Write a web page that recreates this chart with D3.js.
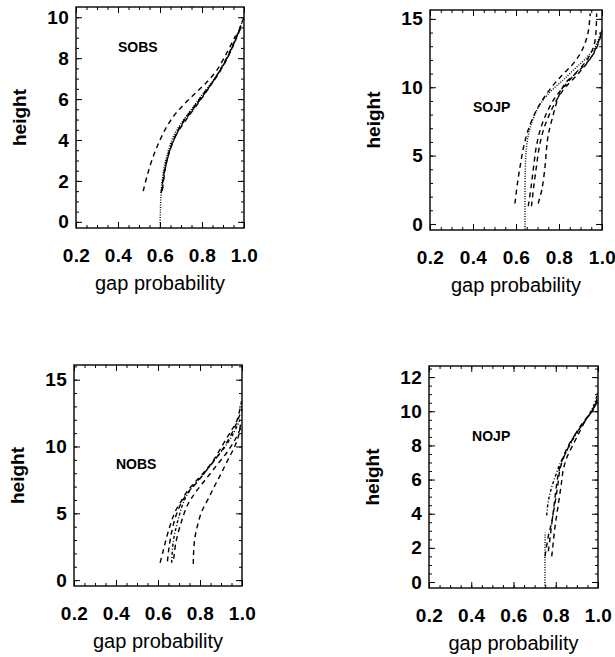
<!DOCTYPE html>
<html>
<head>
<meta charset="utf-8">
<title>Gap probability profiles</title>
<script src="https://cdn.jsdelivr.net/npm/d3@7"></script>
<style>
 body { margin: 0; background: #fff; }
 svg, svg text { font-family: "Liberation Sans", Arial, sans-serif; }
 .tick text { font-size: 19px; font-weight: bold; fill: #000; letter-spacing: 0.3px; font-family: "Liberation Sans", Arial, sans-serif; }
 .tick line { stroke: #000; stroke-width: 1px; }
 .frame { fill: none; stroke: #000; stroke-width: 1.4px; }
 .curve { fill: none; stroke: #000; stroke-width: 1.4px; }
 .xlabel { font-size: 20px; }
 .ylabel { font-size: 19px; font-weight: bold; }
 .site { font-size: 14px; font-weight: bold; }
</style>
</head>
<body>
<script>
// tick labels
var gapTicks = [0.2, 0.4, 0.6, 0.8, 1.0];
var sobsHeightTicks = [0, 2, 4, 6, 8, 10];
var sojpHeightTicks = [0, 5, 10, 15];
var nobsHeightTicks = [0, 5, 10, 15];
var nojpHeightTicks = [0, 2, 4, 6, 8, 10, 12];

// curves, [gap probability, height]
var sobsCurves = [
  [[0.600, -0.3], [0.602, 0.6], [0.606, 1.5], [0.615, 2.4], [0.632, 3.2], [0.660, 4.1], [0.700, 4.8], [0.750, 5.5], [0.800, 6.2], [0.860, 7.0], [0.920, 8.0], [0.965, 9.0], [0.995, 9.9]],
  [[0.610, 1.5], [0.622, 2.5], [0.640, 3.3], [0.668, 4.1], [0.710, 4.9], [0.760, 5.6], [0.810, 6.3], [0.870, 7.1], [0.930, 8.2], [0.970, 9.2], [1.000, 10.0]],
  [[0.612, 1.6], [0.627, 2.7], [0.650, 3.6], [0.680, 4.3], [0.725, 5.0], [0.775, 5.7], [0.830, 6.5], [0.890, 7.5], [0.945, 8.6], [0.985, 9.6]],
  [[0.605, 1.4], [0.618, 2.3], [0.636, 3.1], [0.662, 3.9], [0.700, 4.7], [0.750, 5.4], [0.800, 6.1], [0.855, 6.9], [0.915, 7.9], [0.960, 8.9], [0.990, 9.6]],
  [[0.520, 1.5], [0.540, 2.3], [0.568, 3.2], [0.600, 4.0], [0.635, 4.7], [0.675, 5.3], [0.720, 5.8], [0.770, 6.3], [0.820, 6.8], [0.870, 7.4], [0.920, 8.3], [0.960, 9.1]]
];
var sojpCurves = [
  [[0.642, -0.4], [0.642, 2.0], [0.643, 4.0], [0.648, 5.5], [0.660, 6.7], [0.680, 7.7], [0.710, 8.7], [0.755, 9.6], [0.810, 10.4], [0.870, 11.3], [0.930, 12.2], [0.970, 13.0], [0.995, 14.0]],
  [[0.595, 1.5], [0.607, 3.0], [0.620, 4.3], [0.635, 5.6], [0.655, 6.8], [0.685, 8.0], [0.720, 9.0], [0.765, 10.0], [0.815, 10.9], [0.870, 11.8], [0.910, 12.8], [0.935, 14.0], [0.945, 15.4]],
  [[0.657, 1.3], [0.670, 2.7], [0.682, 4.2], [0.695, 5.7], [0.715, 7.0], [0.745, 8.2], [0.780, 9.2], [0.820, 10.0], [0.870, 10.9], [0.930, 12.0], [0.965, 13.2], [0.975, 15.4]],
  [[0.672, 1.3], [0.683, 2.8], [0.695, 4.2], [0.708, 5.6], [0.728, 6.9], [0.755, 8.0], [0.790, 9.1], [0.830, 10.0], [0.890, 11.0], [0.950, 12.2], [0.990, 13.6], [1.000, 14.2]],
  [[0.703, 1.5], [0.720, 2.5], [0.735, 4.2], [0.742, 5.5], [0.750, 6.5], [0.770, 7.8], [0.800, 9.4], [0.830, 10.3], [0.870, 10.9], [0.930, 11.8], [0.970, 12.7], [0.995, 13.8]]
];
var nobsCurves = [
  [[0.665, 1.3], [0.673, 2.9], [0.697, 4.6], [0.729, 6.1], [0.770, 7.1], [0.820, 8.0], [0.870, 9.0], [0.920, 10.0], [0.960, 11.0], [0.990, 12.0]],
  [[0.610, 1.3], [0.625, 2.2], [0.641, 3.2], [0.660, 4.2], [0.681, 5.1], [0.710, 5.9], [0.737, 6.6], [0.775, 7.3], [0.815, 8.0], [0.865, 9.0], [0.911, 10.2], [0.950, 11.2], [0.975, 11.9], [0.998, 13.4]],
  [[0.645, 1.4], [0.652, 2.4], [0.665, 3.6], [0.685, 4.8], [0.712, 5.8], [0.745, 6.6], [0.790, 7.4], [0.840, 8.4], [0.890, 9.4], [0.935, 10.5], [0.970, 11.6], [1.000, 12.8]],
  [[0.675, 1.6], [0.685, 2.8], [0.710, 4.3], [0.740, 5.6], [0.780, 6.6], [0.830, 7.6], [0.880, 8.6], [0.930, 9.6], [0.970, 10.6], [1.000, 11.6]],
  [[0.768, 1.2], [0.770, 2.2], [0.776, 3.2], [0.790, 4.2], [0.810, 5.2], [0.840, 6.1], [0.868, 7.0], [0.895, 7.8], [0.920, 8.6], [0.943, 9.3], [0.965, 10.0], [0.982, 10.7], [0.995, 11.9]]
];
var nojpCurves = [
  [[0.749, -0.35], [0.749, 1.5], [0.750, 2.9]],
  [[0.757, 3.9], [0.763, 4.6], [0.773, 5.2], [0.787, 5.8], [0.804, 6.4], [0.823, 7.0], [0.844, 7.5], [0.870, 8.1], [0.899, 8.7], [0.930, 9.3], [0.962, 9.9], [0.985, 10.5], [1.000, 11.2]],
  [[0.749, 1.5], [0.757, 2.1], [0.765, 2.7], [0.777, 3.3], [0.788, 4.0], [0.796, 4.6], [0.804, 5.2], [0.812, 5.9], [0.820, 6.6], [0.838, 7.3], [0.860, 7.9], [0.885, 8.5], [0.915, 9.1], [0.945, 9.6], [0.978, 10.1], [1.000, 10.7]],
  [[0.781, 1.5], [0.788, 2.3], [0.796, 3.2], [0.808, 4.2], [0.820, 5.2], [0.828, 5.9], [0.836, 6.6], [0.853, 7.3], [0.876, 7.9], [0.905, 8.6], [0.938, 9.4], [0.970, 10.0], [0.995, 10.7]],
  [[0.765, 1.8], [0.775, 2.8], [0.785, 3.8], [0.795, 4.8], [0.805, 5.8], [0.815, 6.5], [0.835, 7.3], [0.860, 8.0], [0.890, 8.6], [0.925, 9.2], [0.960, 9.8], [0.990, 10.4]]
];

// dash pattern for each curve, by index
var dotted = '1,1.5';
var dashDot = '3,2,1,2';
var dashed = '5,4';

var panels = [
  {name: 'SOBS', curves: sobsCurves, dash: [dotted, dashed, dashed, dashed, dashed],
   yTicks: sobsHeightTicks, yMinor: 0.5, yDomain: [-0.3, 10.5], box: [76, 7, 244, 228], site: [0.4, 8.3]},
  {name: 'SOJP', curves: sojpCurves, dash: [dotted, dashed, dashed, dashed, dashed],
   yTicks: sojpHeightTicks, yMinor: 1, yDomain: [-0.44, 15.65], box: [430, 10, 602, 230], site: [0.4, 8.2]},
  {name: 'NOBS', curves: nobsCurves, dash: [dashDot, dashed, dashed, dashed, dashed],
   yTicks: nobsHeightTicks, yMinor: 1, yDomain: [-0.44, 16.1], box: [74, 365, 242, 586], site: [0.4, 8.3]},
  {name: 'NOJP', curves: nojpCurves, dash: [dotted, dashDot, dashed, dashed, dashed],
   yTicks: nojpHeightTicks, yMinor: 0.5, yDomain: [-0.35, 12.65], box: [429, 366, 598, 588], site: [0.404, 8.25]}
];

var svg = d3.select('body').append('svg')
    .attr('width', 615)
    .attr('height', 657);

panels.forEach(function (p) {
  var left = p.box[0], top = p.box[1], right = p.box[2], bottom = p.box[3];
  var x = d3.scaleLinear().domain([0.2, 1.0]).range([left, right]);
  var y = d3.scaleLinear().domain(p.yDomain).range([bottom, top]);
  var g = svg.append('g');

  var xMinor = d3.range(0.2, 1.0001, 0.05);
  var yMinor = d3.range(Math.ceil(p.yDomain[0] / p.yMinor) * p.yMinor, p.yDomain[1], p.yMinor);

  // minor ticks all round
  g.append('g').attr('transform', 'translate(0,' + bottom + ')')
    .call(d3.axisBottom(x).tickValues(xMinor).tickSize(-3).tickSizeOuter(0).tickFormat(''));
  g.append('g').attr('transform', 'translate(0,' + top + ')')
    .call(d3.axisTop(x).tickValues(xMinor).tickSize(-3).tickSizeOuter(0).tickFormat(''));
  g.append('g').attr('transform', 'translate(' + left + ',0)')
    .call(d3.axisLeft(y).tickValues(yMinor).tickSize(-3).tickSizeOuter(0).tickFormat(''));
  g.append('g').attr('transform', 'translate(' + right + ',0)')
    .call(d3.axisRight(y).tickValues(yMinor).tickSize(-3).tickSizeOuter(0).tickFormat(''));

  // major ticks
  g.append('g').attr('transform', 'translate(0,' + bottom + ')')
    .call(d3.axisBottom(x).tickValues(gapTicks).tickSize(-6).tickSizeOuter(0)
      .tickPadding(21).tickFormat(d3.format('.1f')));
  g.append('g').attr('transform', 'translate(0,' + top + ')')
    .call(d3.axisTop(x).tickValues(gapTicks).tickSize(-6).tickSizeOuter(0).tickFormat(''));
  g.append('g').attr('transform', 'translate(' + left + ',0)')
    .call(d3.axisLeft(y).tickValues(p.yTicks).tickSize(-6).tickSizeOuter(0).tickPadding(7));
  g.append('g').attr('transform', 'translate(' + right + ',0)')
    .call(d3.axisRight(y).tickValues(p.yTicks).tickSize(-6).tickSizeOuter(0).tickFormat(''));

  g.selectAll('.domain').remove();

  g.append('rect').attr('class', 'frame')
    .attr('x', left).attr('y', top)
    .attr('width', right - left).attr('height', bottom - top);

  var line = d3.line()
    .x(function (d) { return x(d[0]); })
    .y(function (d) { return y(d[1]); })
    .curve(d3.curveCatmullRom);

  g.selectAll('.curve').data(p.curves).enter()
    .append('path')
    .attr('class', 'curve')
    .attr('d', line)
    .attr('stroke-width', function (d, i) { return p.dash[i] === dashed ? 1.4 : 1; })
    .attr('stroke-dasharray', function (d, i) { return p.dash[i]; });

  g.append('text').attr('class', 'site')
    .attr('x', x(p.site[0])).attr('y', y(p.site[1]))
    .text(p.name);

  g.append('text').attr('class', 'xlabel')
    .attr('x', (left + right) / 2).attr('y', bottom + 62)
    .attr('text-anchor', 'middle')
    .text('gap probability');

  g.append('text').attr('class', 'ylabel')
    .attr('transform', 'translate(' + (left - 50) + ',' + ((top + bottom) / 2) + ') rotate(-90)')
    .attr('text-anchor', 'middle')
    .text('height');
});
</script>
</body>
</html>
